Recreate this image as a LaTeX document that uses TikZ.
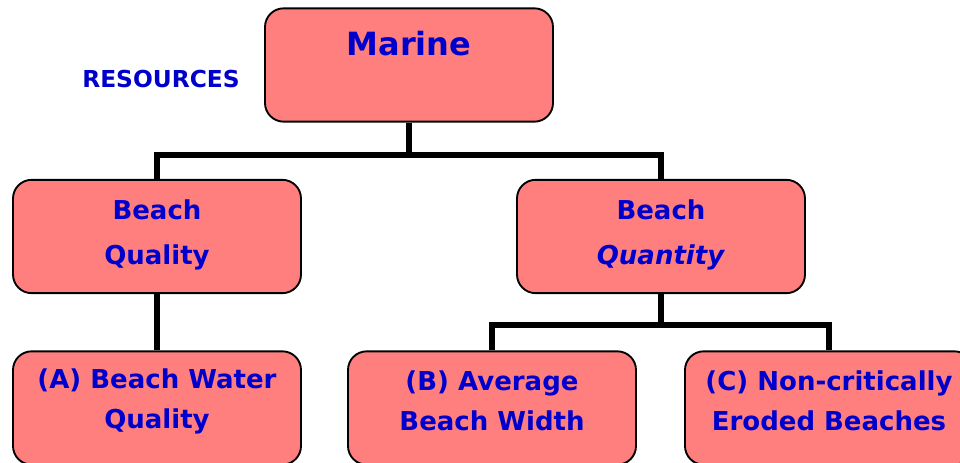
\documentclass[tikz,border=0pt]{standalone}
\usepackage{fontspec}
\setmainfont{DejaVu Sans}
\definecolor{boxfill}{HTML}{FF7F7F}
\definecolor{txtblue}{HTML}{0000CC}
\begin{document}
\begin{tikzpicture}[x=0.75pt,y=-0.75pt,
 box/.style={draw=black, line width=1.4pt, fill=boxfill, rounded corners=14pt, minimum width=216pt, minimum height=85pt, inner sep=0pt},
 lbl/.style={text=txtblue, font=\bfseries\fontsize{19.5}{33.75}\selectfont, align=center, inner sep=0pt},
 lblb/.style={lbl, font=\bfseries\fontsize{19.5}{30}\selectfont},
 conn/.style={line width=4pt, line join=miter}]
\useasboundingbox (0,0) rectangle (960,463);
\clip (0,0) rectangle (960,463);
% boxes
\node[box] (marine) at (409,65) {};
\node[box] (quality) at (157,236.5) {};
\node[box] (quantity) at (661,236.5) {};
\node[box] (wq) at (157,408) {};
\node[box] (width) at (492,408) {};
\node[box] (eroded) at (829,408) {};
% junctions
\coordinate (j1) at (409,155);
\coordinate (j2) at (661,325);
% connectors
\draw[conn] (marine.south) -- (j1);
\draw[conn] (quality.north) |- (j1) -| (quantity.north);
\draw[conn] (quality.south) -- (wq.north);
\draw[conn] (quantity.south) -- (j2);
\draw[conn] (width.north) |- (j2) -| (eroded.north);
% texts
\node[lbl, font=\bfseries\fontsize{24}{28}\selectfont] (tmarine) at (409,44) {Marine};
\node[lbl, font=\bfseries\fontsize{17.5}{20}\selectfont] (tres) at (161,79) {RESOURCES};
\node[lbl] (tquality) at (157,235) {Beach\\Quality};
\node[lbl] (tquantity) at (661,235) {Beach\\\textit{Quantity}};
\node[lblb] (twq) at (157,401) {(A) Beach Water\\Quality};
\node[lblb] (twidth) at (492,401) {(B) Average\\Beach Width};
\node[lblb] (teroded) at (829,401) {(C) Non-critically\\Eroded Beaches};
\end{tikzpicture}
\end{document}
